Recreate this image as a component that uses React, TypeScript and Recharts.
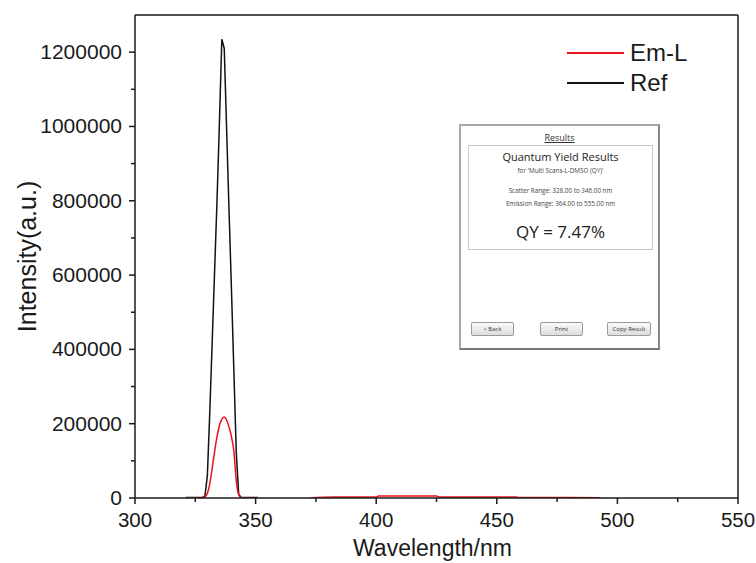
import { LineChart, Line, XAxis, YAxis, ReferenceLine, Legend } from 'recharts';

// scatter region (Rayleigh peak), both samples share the same wavelengths
const scatterWl = [321, 325, 328, 329, 330, 331, 332, 333, 334, 335, 336, 337, 338, 339, 340, 341, 342, 343, 344, 345, 348, 351];
const refIntensity = [1500, 1500, 1500, 5000, 60000, 230000, 420000, 610000, 800000, 1010000, 1235000, 1210000, 990000, 770000, 560000, 340000, 120000, 10000, 1500, 1500, 1500, 1500];
const emScatter = [0, 0, 0, 3000, 12000, 38000, 80000, 125000, 165000, 195000, 212000, 218000, 210000, 190000, 165000, 125000, 45000, 8000, 1000, 0, 0, 0];

// emission region of Em-L (nearly flat)
const emissionWl = [373, 378, 383, 390, 400, 401, 410, 420, 425, 426, 435, 445, 458, 459, 470, 480, 493];
const emEmission = [1000, 2000, 3000, 3000, 3000, 5500, 5500, 5500, 5500, 3000, 3000, 3000, 3000, 1500, 1500, 1500, 1000];

const xTicks = [300, 325, 350, 375, 400, 425, 450, 475, 500, 525, 550];
const yTicks = [0, 100000, 200000, 300000, 400000, 500000, 600000, 700000, 800000, 900000, 1000000, 1100000, 1200000];

const refData = scatterWl.map((wl, i) => ({ wl, v: refIntensity[i] }));
const emData1 = scatterWl.map((wl, i) => ({ wl, v: emScatter[i] }));
const emData2 = emissionWl.map((wl, i) => ({ wl, v: emEmission[i] }));

const FONT = '"Liberation Sans", Arial, sans-serif';
const INK = '#1a1a1a';
const MAJOR = 6;
const MINOR = 4;
const GAP = 3;

const XTick = ({ x, y, payload }: any) => {
  const major = payload.value % 50 === 0;
  const y0 = y - MAJOR - GAP;
  return (
    <g>
      <line x1={x} x2={x} y1={y0} y2={y0 + (major ? MAJOR : MINOR)} stroke={INK} strokeWidth={1.5} />
      {major && (
        <text x={x} y={y0 + 29} textAnchor="middle" fontSize={20.5} fill={INK} fontFamily={FONT}>
          {payload.value}
        </text>
      )}
    </g>
  );
};

const YTick = ({ x, y, payload }: any) => {
  const major = payload.value % 200000 === 0;
  const x0 = x + MAJOR + GAP;
  return (
    <g>
      <line x1={x0} x2={x0 - (major ? MAJOR : MINOR)} y1={y} y2={y} stroke={INK} strokeWidth={1.5} />
      {major && (
        <text x={x0 - 13} y={y + 7} textAnchor="end" fontSize={21} fill={INK} fontFamily={FONT}>
          {payload.value}
        </text>
      )}
    </g>
  );
};

const legendItems = [
  { name: 'Em-L', color: '#e8141c' },
  { name: 'Ref', color: '#111' },
];

const LegendBox = () => (
  <div style={{ fontFamily: FONT, fontSize: 24, color: INK }}>
    {legendItems.map((it) => (
      <div key={it.name} style={{ display: 'flex', alignItems: 'center', height: 30 }}>
        <div style={{ width: 57, height: 2, background: it.color, marginRight: 6 }} />
        <span>{it.name}</span>
      </div>
    ))}
  </div>
);

const btn: any = {
  position: 'absolute',
  top: 322,
  height: 14,
  width: 43,
  border: '1px solid #9a9a9a',
  borderRadius: 2,
  background: 'linear-gradient(#fafafa, #dcdcdc)',
  fontSize: 6,
  color: '#333',
  display: 'flex',
  alignItems: 'center',
  justifyContent: 'center',
  boxSizing: 'border-box',
};

const ResultsDialog = () => (
  <div style={{ position: 'absolute', left: 0, top: 0, fontFamily: '"Open Sans", "Noto Sans", sans-serif' }}>
    <div
      style={{
        position: 'absolute',
        left: 459,
        top: 124,
        width: 201,
        height: 226,
        border: '2px solid #a8a8a8',
        borderBottomColor: '#777',
        borderRightColor: '#888',
        boxSizing: 'border-box',
        background: '#fff',
      }}
    />
    <div style={{ position: 'absolute', left: 459, width: 201, top: 131, textAlign: 'center', fontSize: 9, color: '#333', textDecoration: 'underline' }}>
      Results
    </div>
    <div
      style={{
        position: 'absolute',
        left: 468,
        top: 145,
        width: 185,
        height: 105,
        border: '1px solid #c8c8c8',
        boxSizing: 'border-box',
        textAlign: 'center',
        color: '#222',
      }}
    >
      <div style={{ fontSize: 11, marginTop: 3 }}>Quantum Yield Results</div>
      <div style={{ fontSize: 6.3, color: '#444', marginTop: 2 }}>for 'Multi Scans-L-DMSO (QY)'</div>
      <div style={{ fontSize: 6.3, color: '#444', marginTop: 11 }}>Scatter Range: 328.00 to 346.00 nm</div>
      <div style={{ fontSize: 6.3, color: '#444', marginTop: 4 }}>Emission Range: 364.00 to 555.00 nm</div>
      <div style={{ fontSize: 17, marginTop: 12 }}>QY = 7.47%</div>
    </div>
    <div style={{ ...btn, left: 471 }}>&lt; Back</div>
    <div style={{ ...btn, left: 540 }}>Print</div>
    <div style={{ ...btn, left: 607, width: 44 }}>Copy Result</div>
  </div>
);

export default function App() {
  return (
    <div style={{ position: 'absolute', left: 0, top: 0, width: 756, height: 563, background: '#fff' }}>
      <LineChart width={756} height={563} margin={{ top: 15, right: 18, bottom: 0, left: 0 }}>
        <XAxis
          type="number"
          dataKey="wl"
          domain={[300, 550]}
          ticks={xTicks}
          interval={0}
          height={65}
          stroke={INK}
          strokeWidth={1.5}
          tickLine={false}
          tickSize={MAJOR}
          tickMargin={GAP}
          tick={<XTick />}
          allowDataOverflow
          label={{
            content: ({ viewBox }: any) => (
              <text
                x={viewBox.x + viewBox.width / 2 - 4}
                y={viewBox.y + 58}
                textAnchor="middle"
                fontSize={23}
                fill={INK}
                fontFamily={FONT}
              >
                Wavelength/nm
              </text>
            ),
          }}
        />
        <YAxis
          type="number"
          domain={[0, 1300000]}
          ticks={yTicks}
          interval={0}
          width={135}
          stroke={INK}
          strokeWidth={1.5}
          tickLine={false}
          tickSize={MAJOR}
          tickMargin={GAP}
          tick={<YTick />}
          allowDataOverflow
          label={{
            content: ({ viewBox }: any) => (
              <text
                transform={`translate(${viewBox.x + 36}, ${viewBox.y + viewBox.height / 2}) rotate(-90)`}
                textAnchor="middle"
                fontSize={25}
                fill={INK}
                fontFamily={FONT}
              >
                Intensity(a.u.)
              </text>
            ),
          }}
        />
        <ReferenceLine y={1300000} stroke={INK} strokeWidth={1.5} />
        <ReferenceLine x={550} stroke={INK} strokeWidth={1.5} />
        <Legend
          layout="horizontal"
          verticalAlign="middle"
          content={<LegendBox />}
          wrapperStyle={{ position: 'absolute', left: 567, top: 38, width: 140 }}
        />
        <Line data={refData} dataKey="v" type="linear" stroke="#111" strokeWidth={1.5} dot={false} isAnimationActive={false} />
        <Line data={emData1} dataKey="v" type="monotone" stroke="#e8141c" strokeWidth={1.5} dot={false} isAnimationActive={false} />
        <Line data={emData2} dataKey="v" type="linear" stroke="#e8141c" strokeWidth={1.5} dot={false} isAnimationActive={false} />
      </LineChart>
      <ResultsDialog />
    </div>
  );
}
